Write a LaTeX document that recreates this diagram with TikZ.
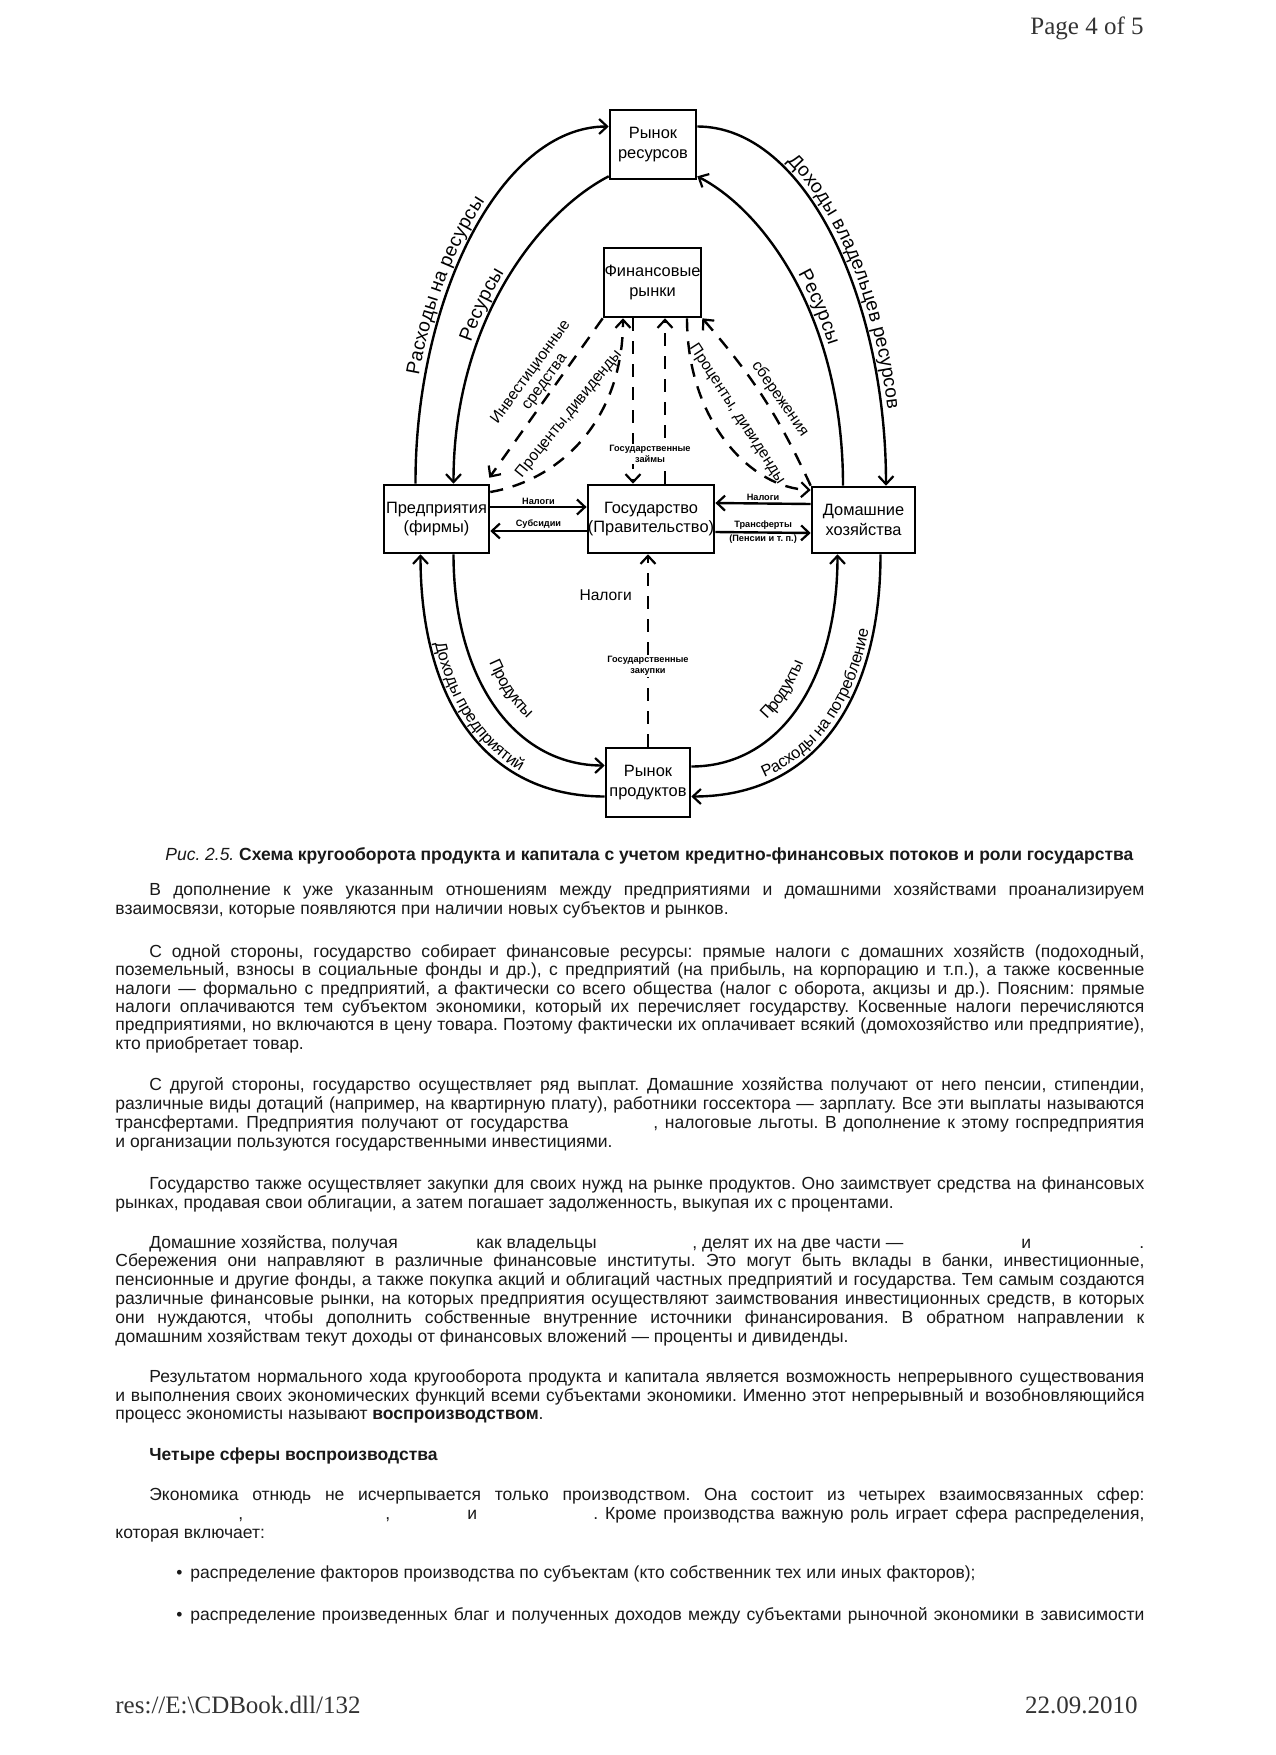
\documentclass[tikz,border=0pt]{standalone}
\usepackage{graphicx}
\usepackage{fontspec}
\setmainfont{Liberation Sans}
\newfontfamily\pagefont{Liberation Serif}
\usetikzlibrary{arrows.meta,calc,decorations.text}
\frenchspacing
\newcommand\toplab{\fontsize{9.6}{10}\selectfont}
\newcommand\botlab{\fontsize{8.2}{9}\selectfont}
\tikzset{
  box/.style={draw, line width=1.3pt, inner sep=0pt, align=center, font=\fontsize{8.2}{9.6}\selectfont},
  flow/.style={line width=1.2pt, -{Straight Barb[length=4pt,width=7.5pt,line width=1.1pt]}},
  dflow/.style={flow, dash pattern=on 6.5pt off 5pt},
  arclab/.style={decorate, decoration={text along path, raise=#1}},
  arclab/.default=3pt,
  smalllab/.style={font=\fontsize{7.8}{8.6}\selectfont, inner sep=1.5pt},
  tinylab/.style={font=\bfseries\fontsize{4.6}{5.4}\selectfont, inner sep=0.8pt},
  tl/.style={anchor=base west, inner sep=0pt, text=black!90, font=\fontsize{8.75}{9}\selectfont},
  pg/.style={inner sep=0pt, text=black!80, font=\pagefont\fontsize{12.5}{14}\selectfont},
}
\newsavebox\jbox
\newcommand\JL[4]{\node[tl] (#1) at (#2) {\sbox\jbox{#4}\ifdim\wd\jbox>#3\relax\resizebox{#3}{\height}{#4}\else\makebox[#3][s]{#4}\fi};}
\newcommand\NL[3]{\node[tl] (#1) at (#2) {#3};}
\begin{document}
\begin{tikzpicture}[x=0.5pt,y=-0.5pt]
\useasboundingbox[fill=white] (0,0) rectangle (1275,1755);

% header / footer
\node[pg, anchor=base east] (hdr) at (1144,35) {Page 4 of 5};
\node[pg, anchor=base west] (ftl) at (115,1713) {res://E:\textbackslash CDBook.dll/132};
\node[pg, anchor=base east] (ftr) at (1138,1713) {22.09.2010};

% boxes
\node[box, minimum width=43pt, minimum height=34.5pt] (rr) at (653,144.5) {Рынок\\ресурсов};
\node[box, minimum width=48.5pt, minimum height=34.5pt] (fr) at (652.5,282.5) {Финансовые\\рынки};
\node[box, minimum width=52.5pt, minimum height=34pt] (pr) at (436.5,519) {Предприятия\\(фирмы)};
\node[box, minimum width=63pt, minimum height=34pt] (gov) at (651,519) {Государство\\(Правительство)};
\node[box, minimum width=51.5pt, minimum height=33pt] (dh) at (863.5,520) {Домашние\\хозяйства};
\node[box, minimum width=42pt, minimum height=34.5pt] (rp) at (648,782.5) {Рынок\\продуктов};

% arc end points
\coordinate (a1s) at ($(pr.north)+(-21,0)$);
\coordinate (a1e) at ($(rr.west)+(0,-18)$);
\coordinate (a2s) at ($(rr.south west)+(0,-4)$);
\coordinate (a2e) at ($(pr.north)+(17,0)$);
\coordinate (a3s) at ($(rr.east)+(0,-18)$);
\coordinate (a3e) at ($(dh.north)+(22.5,0)$);
\coordinate (a4s) at ($(dh.north)+(-20.5,0)$);
\coordinate (a4e) at ($(rr.south east)+(0,-4)$);
\coordinate (a5s) at ($(rp.west)+(0,14)$);
\coordinate (a5e) at ($(pr.south)+(-16,0)$);
\coordinate (a6s) at ($(pr.south)+(17,0)$);
\coordinate (a6e) at ($(rp.west)+(0,-17)$);
\coordinate (a7s) at ($(rp.east)+(0,-16)$);
\coordinate (a7e) at ($(dh.south)+(-26,0)$);
\coordinate (a8s) at ($(dh.south)+(17,0)$);
\coordinate (a8e) at ($(rp.east)+(0,14)$);

% upper arcs
\draw[flow] (a1s) .. controls (415,300) and (500,126.5) .. (a1e);
\path[arclab, decoration={text={|\toplab|Расходы на ресурсы}, text align={center, right indent=20pt}}]
  (a1s) .. controls (415,300) and (500,126.5) .. (a1e);
\draw[flow] (a2s) .. controls (540,212) and (453.5,320) .. (a2e);
\path[arclab, decoration={text={|\toplab|Ресурсы}, text align={center}}]
  (a2e) .. controls (453.5,320) and (540,212) .. (a2s);
\draw[flow] (a3s) .. controls (806,126.5) and (886,300) .. (a3e);
\path[arclab, decoration={text={|\toplab|Доходы владельцев ресурсов}, text align={center, left indent=10pt}}]
  (a3s) .. controls (806,126.5) and (886,300) .. (a3e);
\draw[flow] (a4s) .. controls (843,320) and (766,212) .. (a4e);
\path[arclab, decoration={text={|\toplab|Ресурсы}, text align={center}}]
  (a4e) .. controls (766,212) and (843,320) .. (a4s);

% lower arcs
\draw[flow] (a5s) .. controls (485,796.5) and (420.5,700) .. (a5e);
\path[arclab=2.5pt, decoration={text={|\botlab|Доходы предприятий}, text align={center}}]
  (a5e) .. controls (420.5,700) and (485,796.5) .. (a5s);
\draw[flow] (a6s) .. controls (453.5,680) and (515,765.5) .. (a6e);
\path[arclab=8pt, decoration={text={|\botlab|Продукты}, text align={center, left indent=10pt}}]
  (a6s) .. controls (453.5,680) and (515,765.5) .. (a6e);
\draw[flow] (a7s) .. controls (780,766.5) and (837.5,680) .. (a7e);
\path[arclab=8pt, decoration={text={|\botlab|Продукты}, text align={center, right indent=10pt}}]
  (a7s) .. controls (780,766.5) and (837.5,680) .. (a7e);
\draw[flow] (a8s) .. controls (880.5,700) and (815,796.5) .. (a8e);
\path[arclab=2.5pt, decoration={text={|\botlab|Расходы на потребление}, text align={center}}]
  (a8e) .. controls (815,796.5) and (880.5,700) .. (a8s);

% horizontal flows
\draw[flow] ($(pr.east)+(0,-12)$) -- ($(gov.west)+(0,-12)$) node[tinylab, midway, above] (lh1) {Налоги};
\draw[flow] ($(gov.west)+(0,12)$) -- ($(pr.east)+(0,12)$) node[tinylab, midway, above] (lh2) {Субсидии};
\draw[flow] ($(dh.west)+(0,-16)$) -- ($(gov.east)+(0,-16)$) node[tinylab, midway, above] (lh3) {Налоги};
\draw[flow] ($(gov.east)+(0,13)$) -- ($(dh.west)+(0,13)$) node[tinylab, midway, above] (lh4) {Трансферты}
  node[tinylab, midway, below] (lh5) {(Пенсии и т. п.)};

% vertical dashed: product market -> government
\draw[dflow] (rp.north) -- (rp.north |- gov.south)
  node[smalllab, pos=0.79, left=6pt] (lv1) {Налоги}
  node[tinylab, pos=0.42, fill=white, align=center] (lv2) {Государственные\\закупки};

% government <-> financial markets
\draw[dflow] ($(fr.south)+(-19.5,0)$) -- ($(gov.north)+(-18,0)$);
\draw[dflow] ($(gov.north)+(14,0)$) -- ($(fr.south)+(12.5,0)$);
\node[tinylab, fill=white, align=center] (lv3) at (650,454) {Государственные\\займы};

% firms <-> financial markets
\draw[dflow] (fr.south west) -- ($(pr.north east)+(-1,-6)$);
\node[smalllab, rotate=54, align=center] (ld1) at (538,377) {Инвестиционные\\средства};
\draw[dflow] ($(pr.east)+(0,-27)$) .. controls (560,480) and (623,420) .. ($(fr.south)+(-29.5,0)$);
\node[smalllab, rotate=51] (ld2) at (569,414) {Проценты,дивиденды};

% households <-> financial markets
\draw[dflow] ($(fr.south)+(34.5,0)$) .. controls (687,420) and (750,488) .. ($(dh.west)+(0,-30)$);
\node[smalllab, rotate=-57] (ld3) at (737,414) {Проценты, дивиденды};
\draw[dflow] (dh.north west) to[bend right=8] (fr.south east);
\node[smalllab, rotate=-55] (ld4) at (780,399) {сбережения};

% caption
\node[anchor=base west, inner sep=0pt, text=black!90] (cap) at (165,860)
  {\resizebox{484pt}{\height}{\fontsize{8.8}{9}\selectfont\textit{Рис. 2.5.} \textbf{Схема кругооборота продукта и капитала с учетом кредитно-финансовых потоков и роли государства}}};

% paragraph 1
\JL{p1a}{149,895.5}{497.5pt}{В дополнение к уже указанным отношениям между предприятиями и домашними хозяйствами проанализируем}
\NL{p1b}{115,914.5}{взаимосвязи, которые появляются при наличии новых субъектов и рынков.}

% paragraph 2
\JL{p2a}{149,957}{497.5pt}{С одной стороны, государство собирает финансовые ресурсы: прямые налоги с домашних хозяйств (подоходный,}
\JL{p2b}{115,975.5}{514.5pt}{поземельный, взносы в социальные фонды и др.), с предприятий (на прибыль, на корпорацию и т.п.), а также косвенные}
\JL{p2c}{115,994}{514.5pt}{налоги — формально с предприятий, а фактически со всего общества (налог с оборота, акцизы и др.). Поясним: прямые}
\JL{p2d}{115,1012}{514.5pt}{налоги оплачиваются тем субъектом экономики, который их перечисляет государству. Косвенные налоги перечисляются}
\JL{p2e}{115,1030.5}{514.5pt}{предприятиями, но включаются в цену товара. Поэтому фактически их оплачивает всякий (домохозяйство или предприятие),}
\NL{p2f}{115,1049}{кто приобретает товар.}

% paragraph 3
\JL{p3a}{149,1090}{497.5pt}{С другой стороны, государство осуществляет ряд выплат. Домашние хозяйства получают от него пенсии, стипендии,}
\JL{p3b}{115,1109}{514.5pt}{различные виды дотаций (например, на квартирную плату), работники госсектора — зарплату. Все эти выплаты называются}
\JL{p3c}{115,1128}{226.5pt}{трансфертами. Предприятия получают от государства}
\JL{p3d}{653,1128}{245.5pt}{, налоговые льготы. В дополнение к этому госпредприятия}
\NL{p3e}{115,1147}{и организации пользуются государственными инвестициями.}

% paragraph 4
\JL{p4a}{149,1189}{497.5pt}{Государство также осуществляет закупки для своих нужд на рынке продуктов. Оно заимствует средства на финансовых}
\NL{p4b}{115,1208}{рынках, продавая свои облигации, а затем погашает задолженность, выкупая их с процентами.}

% paragraph 5
\NL{p5a}{149,1248}{Домашние хозяйства, получая}
\NL{p5b}{476,1248}{как владельцы}
\NL{p5c}{692,1248}{, делят их на две части —}
\NL{p5d}{1021,1248}{и}
\NL{p5e}{1139,1248}{.}
\JL{p5f}{115,1266.5}{514.5pt}{Сбережения они направляют в различные финансовые институты. Это могут быть вклады в банки, инвестиционные,}
\JL{p5g}{115,1285}{514.5pt}{пенсионные и другие фонды, а также покупка акций и облигаций частных предприятий и государства. Тем самым создаются}
\JL{p5h}{115,1304}{514.5pt}{различные финансовые рынки, на которых предприятия осуществляют заимствования инвестиционных средств, в которых}
\JL{p5i}{115,1323}{514.5pt}{они нуждаются, чтобы дополнить собственные внутренние источники финансирования. В обратном направлении к}
\NL{p5j}{115,1342}{домашним хозяйствам текут доходы от финансовых вложений — проценты и дивиденды.}

% paragraph 6
\JL{p6a}{149,1382}{497.5pt}{Результатом нормального хода кругооборота продукта и капитала является возможность непрерывного существования}
\JL{p6b}{115,1401}{514.5pt}{и выполнения своих экономических функций всеми субъектами экономики. Именно этот непрерывный и возобновляющийся}
\NL{p6c}{115,1419.5}{процесс экономисты называют \textbf{воспроизводством}.}

% heading
\NL{h1}{149,1460}{\textbf{Четыре сферы воспроизводства}}

% paragraph 7
\JL{p7a}{149,1500}{497.5pt}{Экономика отнюдь не исчерпывается только производством. Она состоит из четырех взаимосвязанных сфер:}
\NL{p7b}{238,1519}{,}
\NL{p7c}{385,1519}{,}
\NL{p7d}{467,1519}{и}
\JL{p7e}{593,1519}{275.5pt}{. Кроме производства важную роль играет сфера распределения,}
\NL{p7f}{115,1538}{которая включает:}

% bullets
\NL{b1}{176,1578}{•}
\NL{b1t}{190,1578}{распределение факторов производства по субъектам (кто собственник тех или иных факторов);}
\NL{b2}{176,1620}{•}
\JL{b2t}{190,1620}{477pt}{распределение произведенных благ и полученных доходов между субъектами рыночной экономики в зависимости}
\end{tikzpicture}
\end{document}
